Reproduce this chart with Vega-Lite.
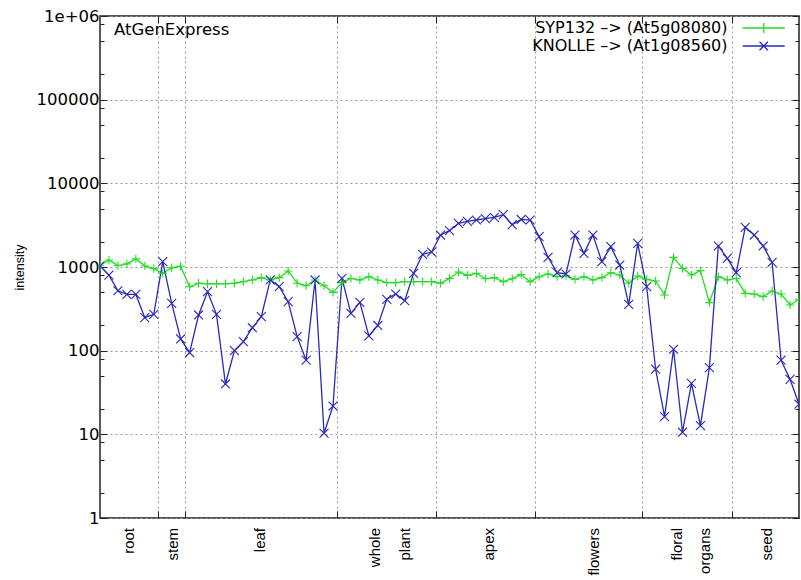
{
  "$schema": "https://vega.github.io/schema/vega-lite/v6.json",
  "width": 699,
  "height": 502,
  "autosize": {"type": "none"},
  "padding": {"left": 100, "top": 16, "right": 2, "bottom": 62},
  "background": "white",
  "config": {
    "view": {"stroke": "#222222", "strokeWidth": 1.5},
    "font": "DejaVu Sans"
  },
  "title": {
    "text": "AtGenExpress",
    "anchor": "start",
    "frame": "group",
    "orient": "top",
    "offset": 0,
    "dx": 14,
    "dy": 43,
    "baseline": "alphabetic",
    "font": "DejaVu Sans",
    "fontSize": 16.5,
    "fontWeight": "normal",
    "color": "black"
  },
  "datasets": {
    "expr": [
      {"sample": 0, "SYP132": 1050, "KNOLLE": 1030},
      {"sample": 1, "SYP132": 1210, "KNOLLE": 800},
      {"sample": 2, "SYP132": 1040, "KNOLLE": 520},
      {"sample": 3, "SYP132": 1090, "KNOLLE": 470},
      {"sample": 4, "SYP132": 1250, "KNOLLE": 470},
      {"sample": 5, "SYP132": 1030, "KNOLLE": 248},
      {"sample": 6, "SYP132": 955, "KNOLLE": 272},
      {"sample": 7, "SYP132": 840, "KNOLLE": 1160},
      {"sample": 8, "SYP132": 980, "KNOLLE": 368},
      {"sample": 9, "SYP132": 1020, "KNOLLE": 138},
      {"sample": 10, "SYP132": 580, "KNOLLE": 95},
      {"sample": 11, "SYP132": 640, "KNOLLE": 267},
      {"sample": 12, "SYP132": 630, "KNOLLE": 507},
      {"sample": 13, "SYP132": 630, "KNOLLE": 272},
      {"sample": 14, "SYP132": 630, "KNOLLE": 40},
      {"sample": 15, "SYP132": 640, "KNOLLE": 100},
      {"sample": 16, "SYP132": 668, "KNOLLE": 128},
      {"sample": 17, "SYP132": 700, "KNOLLE": 188},
      {"sample": 18, "SYP132": 746, "KNOLLE": 255},
      {"sample": 19, "SYP132": 700, "KNOLLE": 700},
      {"sample": 20, "SYP132": 746, "KNOLLE": 582},
      {"sample": 21, "SYP132": 896, "KNOLLE": 385},
      {"sample": 22, "SYP132": 640, "KNOLLE": 147},
      {"sample": 23, "SYP132": 598, "KNOLLE": 77},
      {"sample": 24, "SYP132": 700, "KNOLLE": 700},
      {"sample": 25, "SYP132": 598, "KNOLLE": 10.3},
      {"sample": 26, "SYP132": 498, "KNOLLE": 21.8},
      {"sample": 27, "SYP132": 650, "KNOLLE": 733},
      {"sample": 28, "SYP132": 730, "KNOLLE": 279},
      {"sample": 29, "SYP132": 700, "KNOLLE": 378},
      {"sample": 30, "SYP132": 766, "KNOLLE": 150},
      {"sample": 31, "SYP132": 700, "KNOLLE": 200},
      {"sample": 32, "SYP132": 650, "KNOLLE": 411},
      {"sample": 33, "SYP132": 650, "KNOLLE": 475},
      {"sample": 34, "SYP132": 668, "KNOLLE": 396},
      {"sample": 35, "SYP132": 668, "KNOLLE": 840},
      {"sample": 36, "SYP132": 668, "KNOLLE": 1417},
      {"sample": 37, "SYP132": 668, "KNOLLE": 1510},
      {"sample": 38, "SYP132": 640, "KNOLLE": 2410},
      {"sample": 39, "SYP132": 730, "KNOLLE": 2717},
      {"sample": 40, "SYP132": 871, "KNOLLE": 3327},
      {"sample": 41, "SYP132": 795, "KNOLLE": 3515},
      {"sample": 42, "SYP132": 840, "KNOLLE": 3645},
      {"sample": 43, "SYP132": 725, "KNOLLE": 3785},
      {"sample": 44, "SYP132": 746, "KNOLLE": 3925},
      {"sample": 45, "SYP132": 668, "KNOLLE": 4220},
      {"sample": 46, "SYP132": 725, "KNOLLE": 3205},
      {"sample": 47, "SYP132": 810, "KNOLLE": 3700},
      {"sample": 48, "SYP132": 668, "KNOLLE": 3645},
      {"sample": 49, "SYP132": 766, "KNOLLE": 2305},
      {"sample": 50, "SYP132": 825, "KNOLLE": 1305},
      {"sample": 51, "SYP132": 766, "KNOLLE": 855},
      {"sample": 52, "SYP132": 788, "KNOLLE": 825},
      {"sample": 53, "SYP132": 712, "KNOLLE": 2410},
      {"sample": 54, "SYP132": 766, "KNOLLE": 1456},
      {"sample": 55, "SYP132": 700, "KNOLLE": 2410},
      {"sample": 56, "SYP132": 746, "KNOLLE": 1158},
      {"sample": 57, "SYP132": 855, "KNOLLE": 1750},
      {"sample": 58, "SYP132": 802, "KNOLLE": 1056},
      {"sample": 59, "SYP132": 640, "KNOLLE": 358},
      {"sample": 60, "SYP132": 780, "KNOLLE": 1918},
      {"sample": 61, "SYP132": 712, "KNOLLE": 582},
      {"sample": 62, "SYP132": 680, "KNOLLE": 60},
      {"sample": 63, "SYP132": 463, "KNOLLE": 16.3},
      {"sample": 64, "SYP132": 1305, "KNOLLE": 104},
      {"sample": 65, "SYP132": 964, "KNOLLE": 10.6},
      {"sample": 66, "SYP132": 802, "KNOLLE": 40.7},
      {"sample": 67, "SYP132": 904, "KNOLLE": 12.7},
      {"sample": 68, "SYP132": 375, "KNOLLE": 62.7},
      {"sample": 69, "SYP132": 766, "KNOLLE": 1783},
      {"sample": 70, "SYP132": 700, "KNOLLE": 1270},
      {"sample": 71, "SYP132": 730, "KNOLLE": 855},
      {"sample": 72, "SYP132": 484, "KNOLLE": 2980},
      {"sample": 73, "SYP132": 475, "KNOLLE": 2410},
      {"sample": 74, "SYP132": 442, "KNOLLE": 1783},
      {"sample": 75, "SYP132": 517, "KNOLLE": 1137},
      {"sample": 76, "SYP132": 475, "KNOLLE": 77},
      {"sample": 77, "SYP132": 352, "KNOLLE": 45.4},
      {"sample": 78, "SYP132": 411, "KNOLLE": 22.9}
    ],
    "cats": [
      {"label": "root", "pos": 3.24},
      {"label": "stem", "pos": 8.1},
      {"label": "leaf", "pos": 17.9},
      {"label": "whole", "pos": 30.7},
      {"label": "plant", "pos": 34.0},
      {"label": "apex", "pos": 43.4},
      {"label": "flowers", "pos": 55.1},
      {"label": "floral", "pos": 64.4},
      {"label": "organs", "pos": 67.5},
      {"label": "seed", "pos": 74.4}
    ]
  },
  "resolve": {"axis": {"x": "independent", "y": "independent"}},
  "layer": [
    {
      "data": {"name": "expr"},
      "transform": [{"fold": ["SYP132", "KNOLLE"], "as": ["series", "intensity"]}],
      "mark": {"type": "line", "strokeWidth": 1.3, "clip": true},
      "encoding": {
        "x": {
          "field": "sample", "type": "quantitative",
          "scale": {"domain": [0, 78], "nice": false, "zero": false},
          "axis": {
            "values": [6.5, 9.5, 26.5, 37.5, 48.5, 60.5, 70.5],
            "labels": false, "title": null, "domain": false,
            "grid": true, "gridDash": [2, 3], "gridColor": "#999999", "gridWidth": 1,
            "tickSize": -7, "tickColor": "#222222", "tickWidth": 1
          }
        },
        "y": {
          "field": "intensity", "type": "quantitative",
          "scale": {"type": "log", "domain": [1, 1000000], "nice": false},
          "axis": {
            "values": [1, 2, 5, 8, 10, 20, 50, 80, 100, 200, 500, 800, 1000, 2000, 5000, 8000, 10000, 20000, 50000, 80000, 100000, 200000, 500000, 800000, 1000000],
            "labelExpr": "datum.value == 1000000 ? '1e+06' : (indexof([1,10,100,1000,10000,100000], datum.value) >= 0 ? format(datum.value, 'd') : '')",
            "labelFont": "DejaVu Sans", "labelFontSize": 16.5, "labelColor": "black", "labelPadding": 8,
            "labelOverlap": false,
            "domain": false,
            "grid": true, "gridDash": [2, 3], "gridColor": "#999999", "gridWidth": 1,
            "gridOpacity": {"condition": {"test": "indexof([1,10,100,1000,10000,100000,1000000], datum.value) >= 0", "value": 1}, "value": 0},
            "tickSize": {"condition": {"test": "indexof([1,10,100,1000,10000,100000,1000000], datum.value) >= 0", "value": -7}, "value": -4},
            "tickColor": "#222222", "tickWidth": 1,
            "title": "intensity", "titleFont": "Liberation Sans", "titleFontSize": 12.5,
            "titleFontWeight": "normal", "titleColor": "black", "titlePadding": 10
          }
        },
        "color": {
          "field": "series", "type": "nominal",
          "scale": {"domain": ["SYP132", "KNOLLE"], "range": ["#22dd22", "#2a2ab8"]},
          "legend": {
            "orient": "none", "legendX": 653.75, "legendY": 2,
            "title": null, "direction": "vertical",
            "labelExpr": "datum.label == 'SYP132' ? 'SYP132 –> (At5g08080)' : 'KNOLLE –> (At1g08560)'",
            "labelAlign": "right", "labelOffset": -44.25,
            "labelFont": "DejaVu Sans", "labelFontSize": 16, "labelColor": "black", "labelLimit": 400,
            "symbolType": "M-4,0H4", "symbolSize": 110, "symbolStrokeWidth": 1.3,
            "rowPadding": 2, "padding": 2,
            "encode": {
              "symbols": {
                "update": {
                  "shape": {"signal": "datum.value == 'SYP132' ? 'M-4,0H4M0,-0.95V0.95' : 'M-4,0H4M-0.8,-0.8L0.8,0.8M-0.8,0.8L0.8,-0.8'"}
                }
              }
            }
          }
        }
      }
    },
    {
      "data": {"name": "expr"},
      "mark": {"type": "point", "shape": "M-1,0H1M0,-1V1", "filled": false, "color": "#22dd22", "strokeWidth": 1.1, "size": 70, "opacity": 1, "clip": true},
      "encoding": {
        "x": {
          "field": "sample", "type": "quantitative",
          "axis": {
            "orient": "top",
            "values": [6.5, 9.5, 26.5, 37.5, 48.5, 60.5, 70.5],
            "labels": false, "title": null, "domain": false, "grid": false,
            "tickSize": -7, "tickColor": "#222222", "tickWidth": 1
          }
        },
        "y": {
          "field": "SYP132", "type": "quantitative",
          "axis": {
            "orient": "right",
            "values": [1, 2, 5, 8, 10, 20, 50, 80, 100, 200, 500, 800, 1000, 2000, 5000, 8000, 10000, 20000, 50000, 80000, 100000, 200000, 500000, 800000, 1000000],
            "labels": false, "title": null, "domain": false, "grid": false,
            "tickSize": {"condition": {"test": "indexof([1,10,100,1000,10000,100000,1000000], datum.value) >= 0", "value": -7}, "value": -4},
            "tickColor": "#222222", "tickWidth": 1
          }
        }
      }
    },
    {
      "data": {"name": "expr"},
      "mark": {"type": "point", "shape": "M-1,-1L1,1M-1,1L1,-1", "filled": false, "color": "#2a2ab8", "strokeWidth": 1.1, "size": 80, "opacity": 1, "clip": true},
      "encoding": {
        "x": {"field": "sample", "type": "quantitative", "axis": null},
        "y": {"field": "KNOLLE", "type": "quantitative", "axis": null}
      }
    },
    {
      "data": {"name": "cats"},
      "mark": {"type": "text", "angle": 270, "align": "right", "baseline": "middle", "dx": -10, "font": "Liberation Sans", "fontSize": 15, "color": "black"},
      "encoding": {
        "x": {"field": "pos", "type": "quantitative", "axis": null},
        "y": {"datum": 1, "type": "quantitative", "axis": null},
        "text": {"field": "label"}
      }
    }
  ]
}
